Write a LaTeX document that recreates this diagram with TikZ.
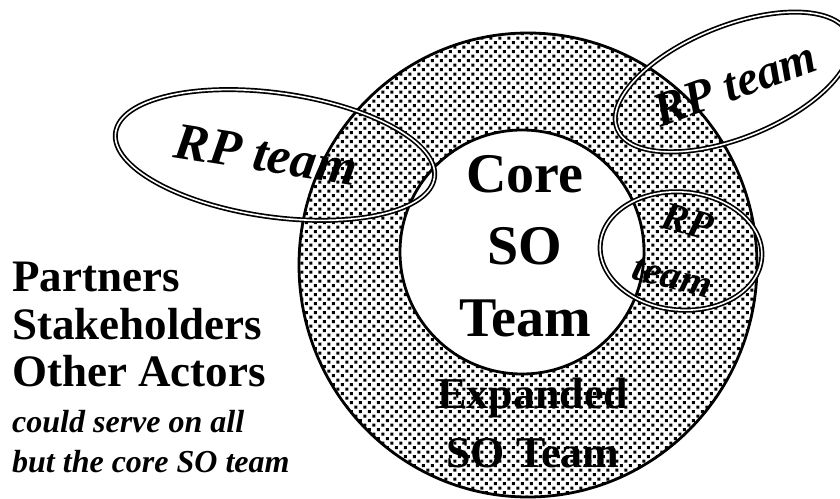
\documentclass[tikz,border=0pt]{standalone}
\usepackage{fontspec}
\setmainfont{Liberation Serif}
\usetikzlibrary{patterns}
% stippled fill of the expanded team ring
\pgfdeclarepatternformonly{sodots}{\pgfqpoint{0pt}{0pt}}{\pgfqpoint{9.4pt}{9.4pt}}{\pgfqpoint{9.4pt}{9.4pt}}{%
  \pgfpathrectangle{\pgfqpoint{0.5pt}{0.5pt}}{\pgfqpoint{3.2pt}{3.2pt}}%
  \pgfpathrectangle{\pgfqpoint{5.2pt}{5.2pt}}{\pgfqpoint{3.2pt}{3.2pt}}%
  \pgfusepath{fill}}
\begin{document}
\begin{tikzpicture}[x=1pt,y=1pt,
  ring/.style={draw=black, line width=2.8pt},
  rpring/.style={draw=black, line width=1.7pt, double=white, double distance=1.6pt},
  coretxt/.style={font=\fontsize{56}{60}\selectfont\bfseries, anchor=base, inner sep=0pt},
  exptxt/.style={font=\fontsize{44}{48}\selectfont\bfseries, anchor=base, inner sep=0pt},
  sidetxt/.style={font=\fontsize{45}{48}\selectfont\bfseries, anchor=base west, inner sep=0pt},
  notetxt/.style={font=\fontsize{32}{36}\selectfont\bfseries\itshape, anchor=base west, inner sep=0pt},
  rptxt/.style={font=\bfseries\itshape, inner sep=0pt, align=center}]
\useasboundingbox (0,0) rectangle (840,498);
\fill[white] (0,0) rectangle (840,498);

% expanded SO team ring and core circle
\path[ring, pattern=sodots] (528,233) ellipse [x radius=229, y radius=232];
\path[ring, fill=white] (522,246) circle [radius=122];

% core team label
\node[coretxt] (core) at (525,305) {Core};
\node[coretxt] (so) at (525,233) {SO};
\node[coretxt] (team) at (525,161) {Team};

% expanded team label
\node[exptxt] (exp1) at (533,90) {Expanded};
\node[exptxt] (exp2) at (533,31) {SO Team};

% left-hand text
\node[sidetxt] (partners) at (12,206) {Partners};
\node[sidetxt] (stake) at (12,158) {Stakeholders};
\node[sidetxt] (actors) at (12,111) {Other Actors};
\node[notetxt] (note1) at (12,66) {could serve on all};
\node[notetxt] (note2) at (12,26) {but the core SO team};

% RP team labels
\node[rptxt, font=\fontsize{52}{56}\selectfont\bfseries\itshape, rotate=-9] (rpleft) at (266,343) {RP team};
\node[rptxt, font=\fontsize{48}{52}\selectfont\bfseries\itshape, rotate=20] (rptop) at (735,414) {RP team};
\node[rptxt, font=\fontsize{40}{56}\selectfont\bfseries\itshape, rotate=-15] (rpright) at (680,249) {RP\\team};

% RP team outlines
\draw[rpring, rotate around={-8:(275,343)}] (275,343) ellipse [x radius=161, y radius=62];
\draw[rpring, rotate around={22:(733,416)}] (733,416) ellipse [x radius=125, y radius=56];
\draw[rpring, rotate around={-5:(681,247)}] (681,247) ellipse [x radius=81, y radius=59];
\end{tikzpicture}
\end{document}
